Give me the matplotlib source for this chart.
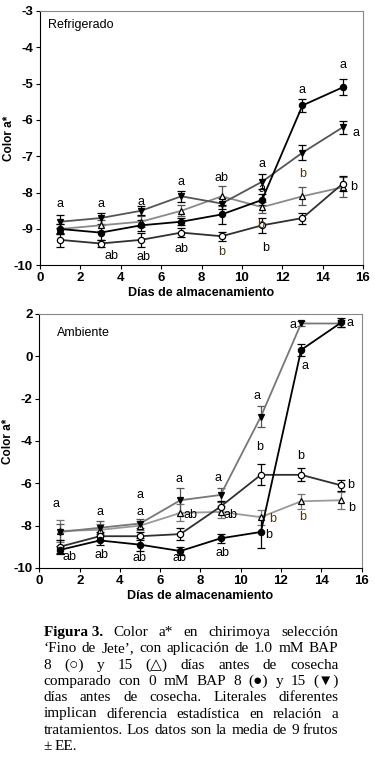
import matplotlib
matplotlib.use("Agg")
import matplotlib.pyplot as plt

# storage days
days = [1, 3, 5, 7, 9, 11, 13, 15]

# Refrigerado
r_bap8 = [-9.3, -9.4, -9.3, -9.1, -9.2, -8.9, -8.7, -7.75]
r_bap8_err = [0.2, 0.1, 0.2, 0.12, 0.12, 0.2, 0.15, 0.2]
r_bap15 = [-9.0, -8.9, -8.8, -8.5, -8.1, -8.4, -8.1, -7.85]
r_bap15_err = [0.15, 0.15, 0.15, 0.15, 0.28, 0.15, 0.25, 0.28]
r_c8 = [-9.0, -9.1, -8.9, -8.8, -8.6, -8.2, -5.6, -5.1]
r_c8_err = [0.15, 0.2, 0.15, 0.1, 0.25, 0.15, 0.18, 0.22]
r_c15 = [-8.8, -8.7, -8.5, -8.1, -8.3, -7.7, -6.9, -6.2]
r_c15_err = [0.18, 0.15, 0.12, 0.15, 0.15, 0.2, 0.2, 0.18]

# Ambiente
a_bap8 = [-9.0, -8.5, -8.5, -8.4, -7.1, -5.6, -5.6, -6.1]
a_bap8_err = [0.3, 0.2, 0.2, 0.3, 0.25, 0.5, 0.3, 0.25]
a_bap15 = [-8.25, -8.2, -8.0, -7.4, -7.35, -7.6, -6.85, -6.8]
a_bap15_err = [0.5, 0.3, 0.2, 0.4, 0.3, 0.35, 0.35, 0.4]
a_c8 = [-9.15, -8.7, -8.9, -9.2, -8.6, -8.3, 0.3, 1.6]
a_c8_err = [0.2, 0.2, 0.3, 0.2, 0.2, 0.75, 0.3, 0.2]
a_c15 = [-8.3, -8.1, -7.9, -6.8, -6.55, -2.85, 1.55, 1.55]
a_c15_err = [0.4, 0.3, 0.2, 0.6, 0.35, 0.5, 0.1, 0.15]

# significance letters (x, y, text, brown?)
r_letters = [(1, -8.3, "a", 0), (3, -8.3, "a", 0), (5, -8.27, "a", 0),
             (7, -7.7, "a", 0), (9, -7.6, "ab", 0), (11, -7.2, "a", 0),
             (11, -7.9, "a", 0), (13, -7.5, "b", 1), (13, -5.17, "a", 0),
             (15, -4.5, "a", 0), (15.65, -6.37, "a", 0), (15.55, -7.85, "b", 0),
             (3.55, -9.75, "ab", 0), (5.15, -9.78, "ab", 0), (7, -9.55, "ab", 0),
             (9, -9.63, "b", 1), (11.2, -9.52, "b", 0), (10.95, -8.9, "b", 1)]
a_letters = [(0.8, -7.0, "a", 0), (3, -7.34, "a", 0), (5, -6.54, "a", 0),
             (5, -7.34, "a", 0), (6.95, -5.8, "a", 0), (7.5, -7.5, "ab", 0),
             (8.85, -5.77, "a", 0), (9.5, -7.5, "ab", 0), (10.95, -4.3, "b", 0),
             (10.8, -1.87, "a", 0), (12.6, 1.48, "a", 0), (13.2, -0.44, "a", 0),
             (15.45, 1.56, "a", 0), (13.0, -4.7, "b", 0), (15.45, -6.1, "b", 0),
             (15.5, -7.15, "b", 0), (13.1, -7.6, "b", 1), (11.6, -7.7, "b", 1),
             (11.4, -8.44, "b", 0), (1.5, -9.5, "ab", 0), (3.1, -9.38, "ab", 0),
             (4.95, -9.55, "ab", 0), (6.95, -9.55, "ab", 0), (9.1, -9.3, "ab", 0)]

caption = [
    [("Figura 3.", "bold"), ("Color", None), ("a*", None), ("en", None),
     ("chirimoya", None), ("selección", None)],
    "‘Fino de Jete’, con aplicación de 1.0 mM BAP",
    "8 (○) y 15 (△) días antes de cosecha",
    "comparado con 0 mM BAP 8 (●) y 15 (▼)",
    "días antes de cosecha. Literales diferentes",
    "implican diferencia estadística en relación a",
    "tratamientos. Los datos son la media de 9 frutos",
    "± EE.",
]

plt.rcParams['font.family'] = ['Liberation Sans', 'DejaVu Sans']
plt.rcParams['axes.unicode_minus'] = False

fig = plt.figure(figsize=(3.75, 7.58), dpi=100)
ax1 = fig.add_axes([0.1067, 0.650, 0.8613, 0.3355])
ax2 = fig.add_axes([0.1053, 0.2507, 0.8587, 0.3351])


def draw_panel(ax, series, letters, ylim, yticks, name, name_pos):
    for y, err, mk, mfc, lc, ec in series:
        ax.errorbar(days, y, yerr=err, color=lc, lw=1.3, marker=mk, ms=4.5,
                    mfc=mfc, mec='black', mew=0.9, ecolor=ec, elinewidth=0.9,
                    capsize=3, capthick=0.9, zorder=3)
    for x, y, t, brown in letters:
        ax.text(x, y, t, ha='center', va='center', fontsize=9,
                color='#4a3410' if brown else 'black', zorder=4)
    ax.set_xlim(0, 16)
    ax.set_ylim(*ylim)
    ax.set_xticks(range(0, 17, 2))
    ax.set_yticks(yticks)
    ax.tick_params(direction='out', length=3, width=0.8, labelsize=9.5, pad=2)
    for lab in ax.get_xticklabels() + ax.get_yticklabels():
        lab.set_fontweight('bold')
    for s in ['top', 'right']:
        ax.spines[s].set_color('#888888')
    ax.set_xlabel("Días de almacenamiento", fontsize=9, fontweight='bold', labelpad=2)
    ax.set_ylabel("Color a*", fontsize=8.5, fontweight='bold')
    ax.yaxis.set_label_coords(-0.078, 0.5)
    ax.text(name_pos[0], name_pos[1], name, transform=ax.transAxes,
            fontsize=9, ha='left', va='center')


draw_panel(ax1, [
    (r_bap15, r_bap15_err, '^', 'white', '#8a8a8a', '#555555'),
    (r_c15, r_c15_err, 'v', 'black', '#555555', 'black'),
    (r_bap8, r_bap8_err, 'o', 'white', '#303030', 'black'),
    (r_c8, r_c8_err, 'o', 'black', 'black', 'black'),
], r_letters, (-10, -3), range(-10, -2), "Refrigerado", (0.025, 0.945))

draw_panel(ax2, [
    (a_bap15, a_bap15_err, '^', 'white', '#9a9a9a', '#777777'),
    (a_c15, a_c15_err, 'v', 'black', '#777777', '#555555'),
    (a_bap8, a_bap8_err, 'o', 'white', '#303030', 'black'),
    (a_c8, a_c8_err, 'o', 'black', 'black', 'black'),
], a_letters, (-10, 2), range(-10, 3, 2), "Ambiente", (0.055, 0.924))

# justified caption
W, H = 375, 758
x0, x1 = 43.5, 338.5
y_first, dy = 632.5, 16.3
cap_font = ['Liberation Serif', 'DejaVu Sans']
renderer = fig.canvas.get_renderer()
for i, line in enumerate(caption):
    if isinstance(line, str):
        words = [(w, None) for w in line.split(" ")]
    else:
        words = line
    yy = 1 - (y_first + i * dy) / H
    objs = []
    for w, weight in words:
        t = fig.text(0, yy, w, fontsize=11, family=cap_font,
                     fontweight=weight or 'normal', ha='left', va='center')
        objs.append(t)
    widths = [t.get_window_extent(renderer).width for t in objs]
    last = i == len(caption) - 1
    if last or len(objs) == 1:
        gap = 3.0
    else:
        gap = (x1 - x0 - sum(widths)) / (len(objs) - 1)
    xp = x0
    for t, w in zip(objs, widths):
        t.set_x(xp / W)
        xp += w + gap

fig.savefig("out.png", dpi=100)
